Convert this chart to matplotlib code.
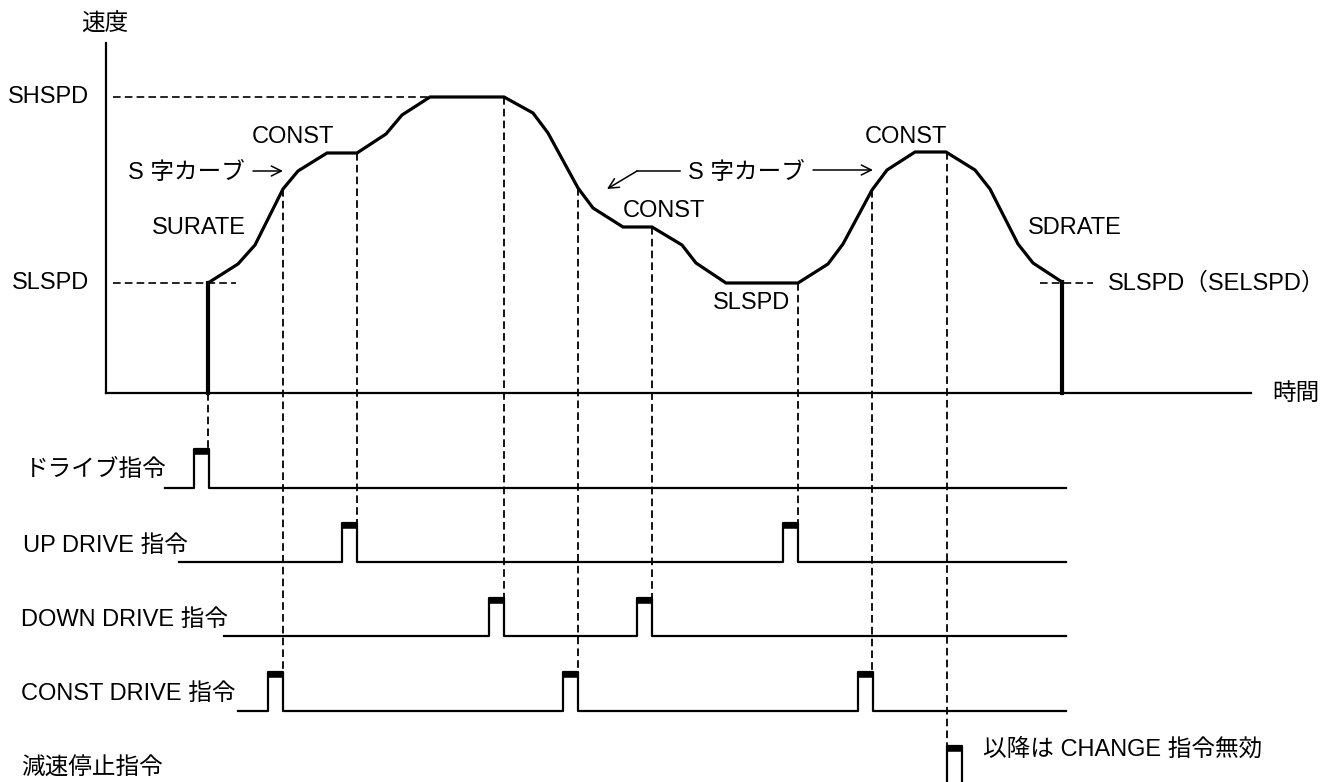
import matplotlib
matplotlib.use("Agg")
import matplotlib.pyplot as plt

plt.rcParams["font.family"] = ["Liberation Sans", "Noto Sans CJK JP"]
plt.rcParams["lines.scale_dashes"] = False

# 速度カーブ (x: 時間, y: 画面座標で下向き)
curve_x = [208, 238, 255, 283, 298, 327, 357, 386, 402, 430, 504, 533, 548, 578,
           593, 623, 652, 682, 696, 726, 798, 828, 843, 872, 887, 915, 946, 975,
           990, 1018, 1033, 1062]
curve_y = [283, 264, 245, 189, 171, 153, 153, 134, 115, 97, 97, 113, 133, 188,
           208, 227, 227, 245, 263, 283, 283, 264, 244, 190, 170, 152, 152, 170,
           189, 244, 263, 282]

AXIS_Y = 393
SHSPD_Y = 97
SLSPD_Y = 283

# 指令タイミング信号
row_labels = ["ドライブ指令", "UP DRIVE 指令", "DOWN DRIVE 指令",
              "CONST DRIVE 指令", "減速停止指令"]
row_label_x = [25, 23, 21, 21, 21]
row_label_y = [470, 546, 620, 694, 769]
row_base = [488, 562, 636, 711, None]
row_start = [165, 179, 224, 238, None]
row_pulses = [
    [(194, 209)],
    [(342, 357), (783, 798)],
    [(489, 504), (637, 652)],
    [(268, 283), (563, 578), (858, 873)],
    [(947, 962)],
]
row_top = [449, 523, 598, 672, 746]
ROW_END = 1066

# 補助線 (x, 開始y, 対応する行)
drop_x = [208, 283, 357, 504, 578, 652, 798, 872, 947]
drop_y0 = [393, 189, 153, 97, 188, 227, 283, 190, 152]
drop_row = [0, 3, 1, 2, 3, 2, 1, 3, 4]

FS = 17
DASH = (5.5, 3)

fig = plt.figure(figsize=(13.28, 7.82), dpi=100)
ax = fig.add_axes([0, 0, 1, 1])
ax.set_xlim(0, 1328)
ax.set_ylim(782, 0)
ax.axis("off")

# 軸
ax.plot([106, 106], [43, AXIS_Y], color="black", lw=1.6)
ax.plot([106, 1251], [AXIS_Y, AXIS_Y], color="black", lw=1.6)
ax.text(105, 25, "速度", fontsize=FS, ha="center", va="center")
ax.text(1296, 394, "時間", fontsize=FS, ha="center", va="center")

# 基準速度の破線
ax.plot([113, 430], [SHSPD_Y, SHSPD_Y], color="black", lw=1.2, dashes=DASH)
ax.plot([113, 236], [SLSPD_Y, SLSPD_Y], color="black", lw=1.2, dashes=DASH)
ax.plot([1040, 1093], [SLSPD_Y, SLSPD_Y], color="black", lw=1.2, dashes=DASH)
ax.text(89, SHSPD_Y, "SHSPD", fontsize=FS, ha="right", va="center")
ax.text(89, SLSPD_Y, "SLSPD", fontsize=FS, ha="right", va="center")

# 速度カーブ
ax.plot(curve_x, curve_y, color="black", lw=2.3, solid_joinstyle="miter")
ax.plot([curve_x[0], curve_x[0]], [curve_y[0], AXIS_Y], color="black", lw=3)
ax.plot([curve_x[-1], curve_x[-1]], [curve_y[-1], AXIS_Y], color="black", lw=3)

# 補助線
for x, y0, r in zip(drop_x, drop_y0, drop_row):
    ax.plot([x, x], [y0, row_top[r]], color="black", lw=1.3, dashes=DASH)

# ラベル
arrow_kw = dict(arrowstyle="->", lw=1.1, color="black",
                mutation_scale=18, shrinkA=0, shrinkB=0)
ax.text(293, 137, "CONST", fontsize=FS, ha="center", va="center")
ax.text(199, 228, "SURATE", fontsize=FS, ha="center", va="center")
ax.text(128, 173, "S 字カーブ", fontsize=FS, ha="left", va="center")
ax.annotate("", xy=(283, 171), xytext=(253, 171), arrowprops=arrow_kw)
ax.text(664, 211, "CONST", fontsize=FS, ha="center", va="center")
ax.text(752, 303, "SLSPD", fontsize=FS, ha="center", va="center")
ax.text(746, 173, "S 字カーブ", fontsize=FS, ha="center", va="center")
ax.plot([637, 680], [171, 171], color="black", lw=1.1)
ax.annotate("", xy=(607, 189), xytext=(637, 171), arrowprops=arrow_kw)
ax.annotate("", xy=(873, 170), xytext=(813, 170), arrowprops=arrow_kw)
ax.text(906, 137, "CONST", fontsize=FS, ha="center", va="center")
ax.text(1075, 228, "SDRATE", fontsize=FS, ha="center", va="center")
ax.text(1108, 283, "SLSPD（SELSPD）", fontsize=FS, ha="left", va="center")

# タイミング信号
for i, label in enumerate(row_labels):
    ax.text(row_label_x[i], row_label_y[i], label, fontsize=FS,
            ha="left", va="center")
    top = row_top[i]
    base = row_base[i]
    if base is None:
        for (a, b) in row_pulses[i]:
            ax.plot([a, a, b, b], [782, top, top, 782], color="black", lw=1.6)
            ax.plot([a, b], [top + 2.5, top + 2.5], color="black", lw=4,
                    solid_capstyle="butt")
        continue
    xs = [row_start[i]]
    ys = [base]
    for (a, b) in row_pulses[i]:
        xs += [a, a, b, b]
        ys += [base, top, top, base]
    xs.append(ROW_END)
    ys.append(base)
    ax.plot(xs, ys, color="black", lw=1.6)
    for (a, b) in row_pulses[i]:
        ax.plot([a, b], [top + 2.5, top + 2.5], color="black", lw=4,
                solid_capstyle="butt")

ax.text(983, 750, "以降は CHANGE 指令無効", fontsize=FS, ha="left", va="center")

fig.savefig("out.png", dpi=100)
